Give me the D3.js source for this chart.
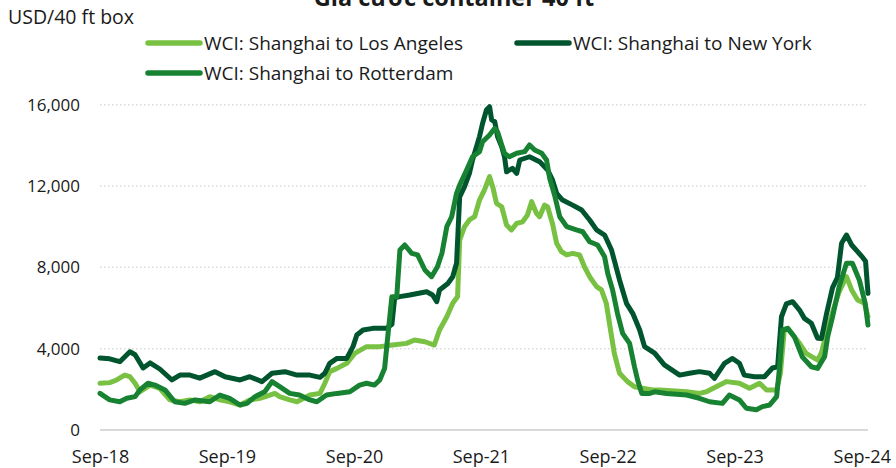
<!DOCTYPE html>
<html>
<head>
<meta charset="utf-8">
<script src="https://cdn.jsdelivr.net/npm/d3@7"></script>
<style>
  body { margin: 0; background: #fff; }
  text { font-family: "Open Sans", sans-serif; fill: #1a1a1a; }
</style>
</head>
<body>
<div class="chart"></div>
<script>
// WCI weekly rates, USD per 40 ft box
var laSeries = [
  ["2018-09-01", 2300], ["2018-09-29", 2330], ["2018-10-19", 2460], ["2018-11-11", 2700],
  ["2018-11-26", 2620], ["2018-12-11", 2300], ["2018-12-25", 1880], ["2019-01-23", 2210],
  ["2019-02-20", 2050], ["2019-03-21", 1480], ["2019-04-19", 1390], ["2019-05-18", 1480],
  ["2019-06-15", 1390], ["2019-07-14", 1640], ["2019-08-12", 1480], ["2019-09-09", 1390],
  ["2019-10-09", 1230], ["2019-11-06", 1480], ["2019-12-05", 1560], ["2020-01-03", 1720],
  ["2020-01-17", 1800], ["2020-01-31", 1640], ["2020-02-29", 1480], ["2020-03-21", 1390],
  ["2020-04-27", 1720], ["2020-05-26", 1800], ["2020-06-09", 2300], ["2020-06-23", 2870],
  ["2020-07-14", 3030], ["2020-08-11", 3280], ["2020-09-03", 3770], ["2020-10-07", 4100],
  ["2020-11-14", 4100], ["2020-12-21", 4180], ["2021-01-30", 4260], ["2021-02-22", 4430],
  ["2021-03-24", 4340], ["2021-04-20", 4180], ["2021-05-05", 4920], ["2021-05-26", 5570],
  ["2021-06-12", 6230], ["2021-06-26", 6560], ["2021-07-02", 9340], ["2021-07-16", 10000],
  ["2021-07-30", 10330], ["2021-08-14", 10490], ["2021-08-28", 11310], ["2021-09-11", 11800],
  ["2021-09-26", 12460], ["2021-10-05", 11970], ["2021-10-16", 11150], ["2021-10-31", 10980],
  ["2021-11-14", 10080], ["2021-11-28", 9840], ["2021-12-13", 10160], ["2021-12-30", 10240],
  ["2022-01-13", 10570], ["2022-01-25", 11230], ["2022-02-08", 10660], ["2022-02-17", 10490],
  ["2022-03-03", 11060], ["2022-03-12", 10980], ["2022-03-26", 10160], ["2022-04-07", 9180],
  ["2022-04-21", 8770], ["2022-05-06", 8610], ["2022-05-23", 8690], ["2022-06-12", 8610],
  ["2022-06-26", 8030], ["2022-07-11", 7540], ["2022-07-31", 7050], ["2022-08-14", 6890],
  ["2022-08-28", 6230], ["2022-09-06", 5250], ["2022-09-20", 3770], ["2022-10-05", 2790],
  ["2022-10-28", 2380], ["2022-11-17", 2130], ["2022-12-10", 2050], ["2023-01-08", 1970],
  ["2023-01-28", 1970], ["2023-04-16", 1880], ["2023-05-23", 1800], ["2023-06-12", 1880],
  ["2023-07-20", 2210], ["2023-08-09", 2380], ["2023-09-15", 2300], ["2023-10-14", 2050],
  ["2023-11-12", 2300], ["2023-12-02", 1970], ["2023-12-31", 1970], ["2024-01-11", 2800],
  ["2024-01-22", 4920], ["2024-02-01", 5000], ["2024-03-06", 4260], ["2024-03-25", 3770],
  ["2024-04-27", 3440], ["2024-05-08", 3800], ["2024-05-23", 4800], ["2024-06-09", 5800],
  ["2024-06-28", 6800], ["2024-07-19", 7540], ["2024-08-03", 6890], ["2024-08-20", 6390],
  ["2024-09-09", 6230], ["2024-09-19", 5570]
];

var nySeries = [
  ["2018-09-01", 3540], ["2018-09-29", 3500], ["2018-10-28", 3360], ["2018-11-26", 3850],
  ["2018-12-11", 3700], ["2019-01-03", 3050], ["2019-01-23", 3300], ["2019-02-20", 3000],
  ["2019-03-27", 2460], ["2019-04-19", 2700], ["2019-05-18", 2700], ["2019-06-15", 2550],
  ["2019-07-29", 2870], ["2019-08-27", 2620], ["2019-10-09", 2460], ["2019-11-06", 2620],
  ["2019-12-11", 2380], ["2020-01-09", 2790], ["2020-02-15", 2870], ["2020-03-21", 2700],
  ["2020-04-27", 2700], ["2020-05-26", 2590], ["2020-06-09", 2790], ["2020-06-23", 3280],
  ["2020-07-14", 3520], ["2020-08-11", 3520], ["2020-08-29", 4100], ["2020-09-09", 4670],
  ["2020-09-27", 4920], ["2020-10-25", 5000], ["2020-12-04", 5000], ["2020-12-19", 5200],
  ["2020-12-27", 6500], ["2021-01-11", 6560], ["2021-02-08", 6640], ["2021-03-29", 6800],
  ["2021-04-15", 6640], ["2021-04-27", 6310], ["2021-05-05", 6890], ["2021-05-29", 7210],
  ["2021-06-12", 7540], ["2021-06-23", 8200], ["2021-07-02", 11470], ["2021-07-16", 11970],
  ["2021-07-30", 12620], ["2021-08-08", 13280], ["2021-08-28", 14430], ["2021-09-06", 15090],
  ["2021-09-17", 15740], ["2021-09-26", 15900], ["2021-10-02", 15250], ["2021-10-11", 15160],
  ["2021-10-19", 14430], ["2021-10-31", 13930], ["2021-11-08", 13440], ["2021-11-14", 12700],
  ["2021-12-01", 12870], ["2021-12-13", 12620], ["2021-12-22", 13280], ["2022-01-19", 13440],
  ["2022-02-17", 13200], ["2022-03-12", 12790], ["2022-03-26", 12300], ["2022-04-07", 11640],
  ["2022-04-24", 11310], ["2022-05-23", 11060], ["2022-06-18", 10820], ["2022-07-11", 10330],
  ["2022-07-31", 9840], ["2022-08-23", 9590], ["2022-09-12", 8850], ["2022-10-05", 7380],
  ["2022-10-25", 6230], ["2022-11-12", 5740], ["2022-12-02", 4920], ["2022-12-16", 4100],
  ["2023-01-14", 3780], ["2023-02-11", 3200], ["2023-03-27", 2700], ["2023-04-24", 2790],
  ["2023-05-23", 2870], ["2023-06-21", 2790], ["2023-07-05", 2540], ["2023-08-03", 3280],
  ["2023-08-26", 3520], ["2023-09-15", 3280], ["2023-09-29", 2700], ["2023-10-28", 2620],
  ["2023-11-26", 2620], ["2023-12-19", 3050], ["2024-01-03", 3110], ["2024-01-14", 5570],
  ["2024-01-28", 6200], ["2024-02-15", 6310], ["2024-03-06", 5900], ["2024-03-20", 5490],
  ["2024-04-09", 5250], ["2024-04-27", 4510], ["2024-05-08", 4500], ["2024-05-23", 5740],
  ["2024-06-09", 7000], ["2024-06-23", 7500], ["2024-07-05", 9180], ["2024-07-19", 9590],
  ["2024-08-03", 9100], ["2024-08-20", 8770], ["2024-09-03", 8500], ["2024-09-12", 8300],
  ["2024-09-19", 6720]
];

var rtmSeries = [
  ["2018-09-01", 1800], ["2018-09-29", 1480], ["2018-10-28", 1390], ["2018-11-17", 1560],
  ["2018-12-11", 1640], ["2018-12-25", 1970], ["2019-01-17", 2300], ["2019-02-06", 2210],
  ["2019-03-07", 1970], ["2019-04-04", 1390], ["2019-05-03", 1310], ["2019-06-01", 1480],
  ["2019-07-14", 1390], ["2019-08-12", 1720], ["2019-09-09", 1560], ["2019-10-09", 1230],
  ["2019-10-29", 1310], ["2019-11-21", 1640], ["2019-12-19", 1880], ["2020-01-09", 2380],
  ["2020-01-31", 2130], ["2020-02-29", 1800], ["2020-03-28", 1720], ["2020-04-27", 1480],
  ["2020-05-17", 1390], ["2020-06-14", 1720], ["2020-07-14", 1800], ["2020-08-20", 1880],
  ["2020-09-17", 2210], ["2020-10-07", 2300], ["2020-10-30", 2210], ["2020-11-14", 2460],
  ["2020-11-28", 3030], ["2020-12-07", 4590], ["2020-12-19", 6560], ["2021-01-02", 6560],
  ["2021-01-11", 8850], ["2021-01-25", 9100], ["2021-02-14", 8690], ["2021-03-03", 8610],
  ["2021-03-24", 7870], ["2021-04-12", 7540], ["2021-04-29", 8030], ["2021-05-12", 8690],
  ["2021-05-26", 10000], ["2021-06-09", 10490], ["2021-06-23", 11640], ["2021-07-02", 12050],
  ["2021-07-22", 12790], ["2021-08-08", 13440], ["2021-08-28", 13690], ["2021-09-06", 14180],
  ["2021-09-26", 14510], ["2021-10-11", 14840], ["2021-10-19", 14670], ["2021-10-31", 14020],
  ["2021-11-08", 13610], ["2021-11-22", 13440], ["2021-12-13", 13610], ["2022-01-05", 13690],
  ["2022-01-19", 14020], ["2022-02-03", 13770], ["2022-02-23", 13610], ["2022-03-09", 13280],
  ["2022-03-18", 12380], ["2022-04-01", 11560], ["2022-04-16", 10490], ["2022-05-06", 10000],
  ["2022-06-03", 9840], ["2022-06-21", 9750], ["2022-07-11", 9260], ["2022-08-03", 9100],
  ["2022-08-23", 8520], ["2022-09-01", 7710], ["2022-09-15", 6890], ["2022-09-29", 5740],
  ["2022-10-14", 4750], ["2022-11-03", 4260], ["2022-11-17", 3110], ["2022-11-26", 2460],
  ["2022-12-08", 1800], ["2022-12-31", 1800], ["2023-01-14", 1880], ["2023-02-17", 1800],
  ["2023-04-16", 1720], ["2023-05-23", 1560], ["2023-06-21", 1390], ["2023-07-28", 1310],
  ["2023-08-17", 1720], ["2023-09-15", 1480], ["2023-10-05", 1070], ["2023-11-03", 1000],
  ["2023-11-20", 1150], ["2023-12-11", 1230], ["2023-12-31", 1640], ["2024-01-08", 3000],
  ["2024-01-17", 4920], ["2024-02-01", 5000], ["2024-02-20", 4590], ["2024-03-14", 3600],
  ["2024-04-09", 3110], ["2024-04-27", 3030], ["2024-05-17", 3600], ["2024-05-26", 4590],
  ["2024-06-09", 5570], ["2024-06-28", 7050], ["2024-07-19", 8200], ["2024-08-05", 8200],
  ["2024-08-25", 7380], ["2024-09-11", 6230], ["2024-09-19", 5160]
];

var seriesNames = ["WCI: Shanghai to Los Angeles", "WCI: Shanghai to New York", "WCI: Shanghai to Rotterdam"];
var seriesColors = ["#78c142", "#00552f", "#178232"];
var xTickDates = ["2018-09-01", "2019-09-01", "2020-09-01", "2021-09-01", "2022-09-01", "2023-09-01", "2024-09-01"];
var yTicks = [0, 4000, 8000, 12000, 16000];

var svgWidth = 896;
var svgHeight = 468;

var svg = d3.select(".chart")
  .append("svg")
  .attr("width", svgWidth)
  .attr("height", svgHeight);

var parseDate = d3.timeParse("%Y-%m-%d");

// scales
var xScale = d3.scaleTime()
  .domain([parseDate("2018-09-01"), parseDate("2024-09-19")])
  .range([100, 868]);

var yScale = d3.scaleLinear()
  .domain([0, 16000])
  .range([430, 104.7]);

// title (cut off at top in the original)
svg.append("text")
  .attr("x", 454)
  .attr("y", 6)
  .attr("text-anchor", "middle")
  .style("font-size", "23.5px")
  .style("font-weight", "bold")
  .text("Giá cước container 40 ft");

svg.append("text")
  .attr("x", 8)
  .attr("y", 24)
  .style("font-size", "19.5px")
  .text("USD/40 ft box");

// gridlines
svg.append("g")
  .selectAll("line")
  .data(yTicks)
  .enter()
  .append("line")
  .attr("x1", 100)
  .attr("x2", d => d === 0 ? 868 : 867)
  .attr("y1", d => yScale(d))
  .attr("y2", d => yScale(d))
  .attr("stroke", "#d9d9d9")
  .attr("stroke-width", d => d === 0 ? 2 : 1.5)
  .attr("stroke-dasharray", d => d === 0 ? null : "1.5,2.5");

// axes
var xAxis = d3.axisBottom(xScale)
  .tickValues(xTickDates.map(parseDate))
  .tickFormat(d3.timeFormat("%b-%y"))
  .tickSize(0);

var yAxis = d3.axisLeft(yScale)
  .tickValues(yTicks)
  .tickFormat(d3.format(","))
  .tickSize(0)
  .tickPadding(20);

var xAxisG = svg.append("g")
  .attr("transform", "translate(0, 430)")
  .call(xAxis);
xAxisG.select(".domain").remove();
xAxisG.selectAll("text")
  .attr("y", 33)
  .attr("dy", 0)
  .style("font-size", "18px")
  .style("font-family", "'Open Sans', sans-serif")
  .attr("fill", "#1a1a1a");

var yAxisG = svg.append("g")
  .attr("transform", "translate(100, 0)")
  .call(yAxis);
yAxisG.select(".domain").remove();
yAxisG.selectAll("text")
  .style("font-size", "17px")
  .style("font-family", "'Open Sans', sans-serif")
  .attr("fill", "#1a1a1a");

// lines
var line = d3.line()
  .x(d => xScale(parseDate(d[0])))
  .y(d => yScale(d[1]));

var allSeries = [laSeries, nySeries, rtmSeries];

svg.append("g")
  .selectAll("path")
  .data(allSeries)
  .enter()
  .append("path")
  .attr("d", d => line(d))
  .attr("fill", "none")
  .attr("stroke", (d, i) => seriesColors[i])
  .attr("stroke-width", 5)
  .attr("stroke-linejoin", "round")
  .attr("stroke-linecap", "round");

// legend
var legendPos = [[146, 43], [515, 43], [146, 73]];

var legend = svg.append("g")
  .selectAll("g")
  .data(seriesNames)
  .enter()
  .append("g")
  .attr("transform", (d, i) => `translate(${legendPos[i][0]}, ${legendPos[i][1]})`);

legend.append("line")
  .attr("x1", 2)
  .attr("x2", 54)
  .attr("stroke", (d, i) => seriesColors[i])
  .attr("stroke-width", 5.5)
  .attr("stroke-linecap", "round");

legend.append("text")
  .attr("x", 58)
  .attr("y", 6.5)
  .style("font-size", "19px")
  .text(d => d);
</script>
</body>
</html>
